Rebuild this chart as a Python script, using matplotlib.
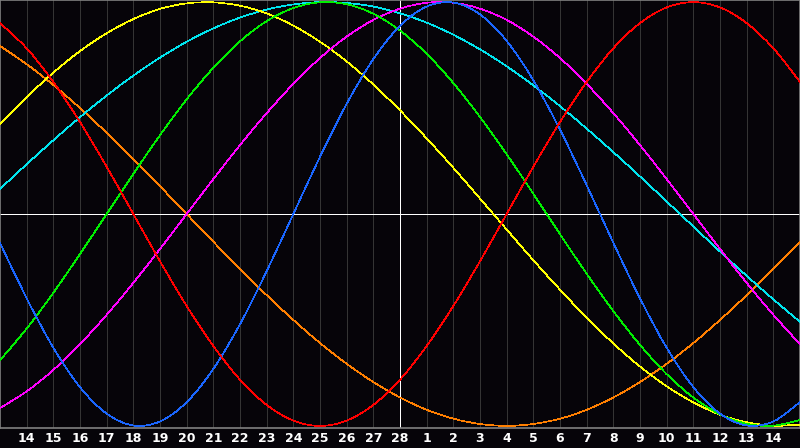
import matplotlib
matplotlib.use("Agg")
import matplotlib.pyplot as plt
from matplotlib.path import Path
from matplotlib.patches import PathPatch

# day labels along the bottom (x index 0..30, label at 1..29)
day_labels = [14, 15, 16, 17, 18, 19, 20, 21, 22, 23, 24, 25, 26, 27, 28,
              1, 2, 3, 4, 5, 6, 7, 8, 9, 10, 11, 12, 13, 14]

# daily values in percent (index 0 = left edge)
red = [90.1, 78.2, 62.3, 43.4, 22.3, 0, -22.3, -43.4, -62.3, -78.2, -90.1,
       -97.5, -100, -97.5, -90.1, -78.2, -62.3, -43.4, -22.3, 0, 22.3, 43.4,
       62.3, 78.2, 90.1, 97.5, 100, 97.5, 90.1, 78.2, 62.3]
blue = [-13.6, -39.8, -63.1, -81.7, -94.2, -99.8, -97.9, -88.8, -73.1, -52.0,
        -27.0, 0, 27.0, 52.0, 73.1, 88.8, 97.9, 99.8, 94.2, 81.7, 63.1, 39.8,
        13.6, -13.6, -39.8, -63.1, -81.7, -94.2, -99.8, -97.9, -88.8]
green = [-69.0, -54.1, -37.2, -18.9, 0, 18.9, 37.2, 54.1, 69.0, 81.5, 91.0,
         97.2, 99.9, 99.0, 94.5, 86.6, 75.6, 61.8, 45.8, 28.2, 9.5, -9.5, -28.2,
         -45.8, -61.8, -75.6, -86.6, -94.5, -99.0, -99.9, -97.2]
magenta = [-91.6, -83.7, -73.6, -61.4, -47.6, -32.5, -16.5, 0, 16.5, 32.5, 47.6,
           61.4, 73.6, 83.7, 91.6, 96.9, 99.7, 99.7, 96.9, 91.6, 83.7, 73.6,
           61.4, 47.6, 32.5, 16.5, 0, -16.5, -32.5, -47.6, -61.4]
yellow = [42.4, 55.2, 66.7, 76.9, 85.3, 92.0, 96.8, 99.4, 99.9, 98.3, 94.7,
          88.9, 81.3, 72.0, 61.1, 48.9, 35.7, 21.8, 7.3, -7.3, -21.8, -35.7,
          -48.9, -61.1, -72.0, -81.3, -88.9, -94.7, -98.3, -99.9, -99.4]
orange = [79.3, 70.7, 60.9, 50.0, 38.3, 25.9, 13.1, 0, -13.1, -25.9, -38.3,
          -50.0, -60.9, -70.7, -79.3, -86.6, -92.4, -96.6, -99.1, -100, -99.1,
          -96.6, -92.4, -86.6, -79.3, -70.7, -60.9, -50.0, -38.3, -25.9, -13.1]
cyan = [11.8, 23.5, 34.8, 45.7, 55.9, 65.3, 73.8, 81.3, 87.6, 92.7, 96.5, 98.9,
        100.0, 99.6, 97.9, 94.7, 90.3, 84.6, 77.7, 69.7, 60.7, 50.9, 40.3, 29.2,
        17.7, 5.9, -5.9, -17.7, -29.2, -40.3, -50.9]

series = [
    (orange, "#ff7f00"),
    (cyan, "#00e4ee"),
    (yellow, "#ffff00"),
    (magenta, "#ff00ff"),
    (green, "#00ee00"),
    (blue, "#1a66ff"),
    (red, "#ff0000"),
]


def smooth_path(xs, ys):
    # catmull-rom style bezier through the daily points
    verts = [(xs[0], ys[0])]
    codes = [Path.MOVETO]
    n = len(xs)
    for i in range(n - 1):
        x0, y0 = (xs[i - 1], ys[i - 1]) if i > 0 else (xs[i], ys[i])
        x1, y1 = xs[i], ys[i]
        x2, y2 = xs[i + 1], ys[i + 1]
        x3, y3 = (xs[i + 2], ys[i + 2]) if i + 2 < n else (x2, y2)
        verts += [(x1 + (x2 - x0) / 6, y1 + (y2 - y0) / 6),
                  (x2 - (x3 - x1) / 6, y2 - (y3 - y1) / 6),
                  (x2, y2)]
        codes += [Path.CURVE4] * 3
    return Path(verts, codes)


bg = "#060409"
fig = plt.figure(figsize=(8, 4.48), dpi=100, facecolor=bg)
ax = fig.add_axes([0, 20 / 448, 1, 428 / 448])
ax.set_facecolor(bg)

days = list(range(len(red)))
ax.set_xlim(0, 30)
ax.set_ylim(-101, 101)

# day grid
for i in range(1, 30):
    ax.axvline(i, color="#363636", lw=0.7, zorder=1)
ax.axvline(15, color="white", lw=0.7, zorder=2, antialiased=False)
ax.axhline(0, color="white", lw=0.7, zorder=2, antialiased=False)

for vals, col in series:
    ax.add_patch(PathPatch(smooth_path(days, vals), fill=False, edgecolor=col,
                           lw=0.5, zorder=3, antialiased=False))

for sp in ax.spines.values():
    sp.set_color("#808080")
    sp.set_linewidth(1.2)

ax.set_xticks(range(1, 30))
ax.set_xticklabels([str(d) for d in day_labels])
ax.tick_params(axis="x", length=0, pad=3, colors="white", labelsize=9)
for lbl in ax.get_xticklabels():
    lbl.set_fontweight("bold")
ax.set_yticks([])

fig.savefig("out.png", dpi=100, facecolor=bg)
